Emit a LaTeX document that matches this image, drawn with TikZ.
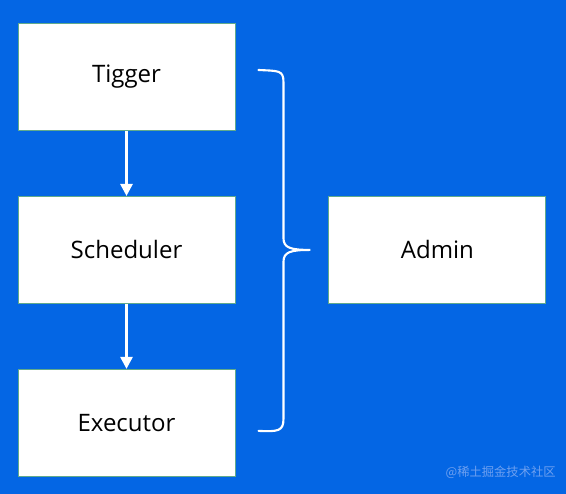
\documentclass[tikz,border=0pt]{standalone}
\usepackage{fontspec}
\setmainfont{Open Sans}
\newfontfamily\cjk{Noto Sans CJK SC}
\usetikzlibrary{arrows.meta, positioning, calc}
\definecolor{bgblue}{RGB}{4,102,228}
\definecolor{boxline}{RGB}{96,170,140}
\definecolor{markblue}{RGB}{110,160,240}

\begin{document}
\begin{tikzpicture}[
    >={Triangle[length=0.36cm, width=0.36cm]}, node distance=1.95cm,
    comp/.style={draw=boxline, line width=0.8pt, fill=white,
        minimum width=6.51cm, minimum height=3.21cm,
        font=\fontsize{20.5}{24}\selectfont},
    flow/.style={->, draw=white, line width=2.3pt}
  ]
  \fill[bgblue] (-3.795,2.31) rectangle (13.185,-12.51);
  \useasboundingbox (-3.795,2.31) rectangle (13.185,-12.51);

  \node[comp] (tigger) {Tigger};
  \node[comp, below=of tigger] (scheduler) {Scheduler};
  \node[comp, below=of scheduler] (executor) {Executor};
  \node[comp, right=2.79cm of scheduler] (admin) {Admin};

  \draw[flow] (tigger) -- (scheduler);
  \draw[flow] (scheduler) -- (executor);

  \coordinate[right=0.69cm of tigger.east, yshift=0.21cm] (bracetop);
  \coordinate[right=0.69cm of executor.east, yshift=-0.24cm] (bracebot);
  \coordinate[right=2.25cm of scheduler.east] (bracetip);
  \draw[white, line width=1.8pt, line cap=round]
    (bracetop) .. controls ($(bracetop)+(0.6,-0.03)$)
      and ($(bracetop)+(0.75,0)$) .. ($(bracetop)+(0.75,-0.36)$)
    -- ($(bracetip)+(-0.81,0.36)$)
      .. controls ($(bracetip)+(-0.81,0.06)$)
      and ($(bracetip)+(-0.6,0)$) .. (bracetip)
      .. controls ($(bracetip)+(-0.6,0)$)
      and ($(bracetip)+(-0.81,-0.06)$) .. ($(bracetip)+(-0.81,-0.36)$)
    -- ($(bracebot)+(0.75,0.36)$)
      .. controls ($(bracebot)+(0.75,0)$)
      and ($(bracebot)+(0.6,-0.03)$) .. (bracebot);

  \node[font=\cjk\fontsize{10.5}{12}\selectfont, text=markblue,
    anchor=east] (mark) at (13.0,-11.85) {@稀土掘金技术社区};
\end{tikzpicture}
\end{document}
